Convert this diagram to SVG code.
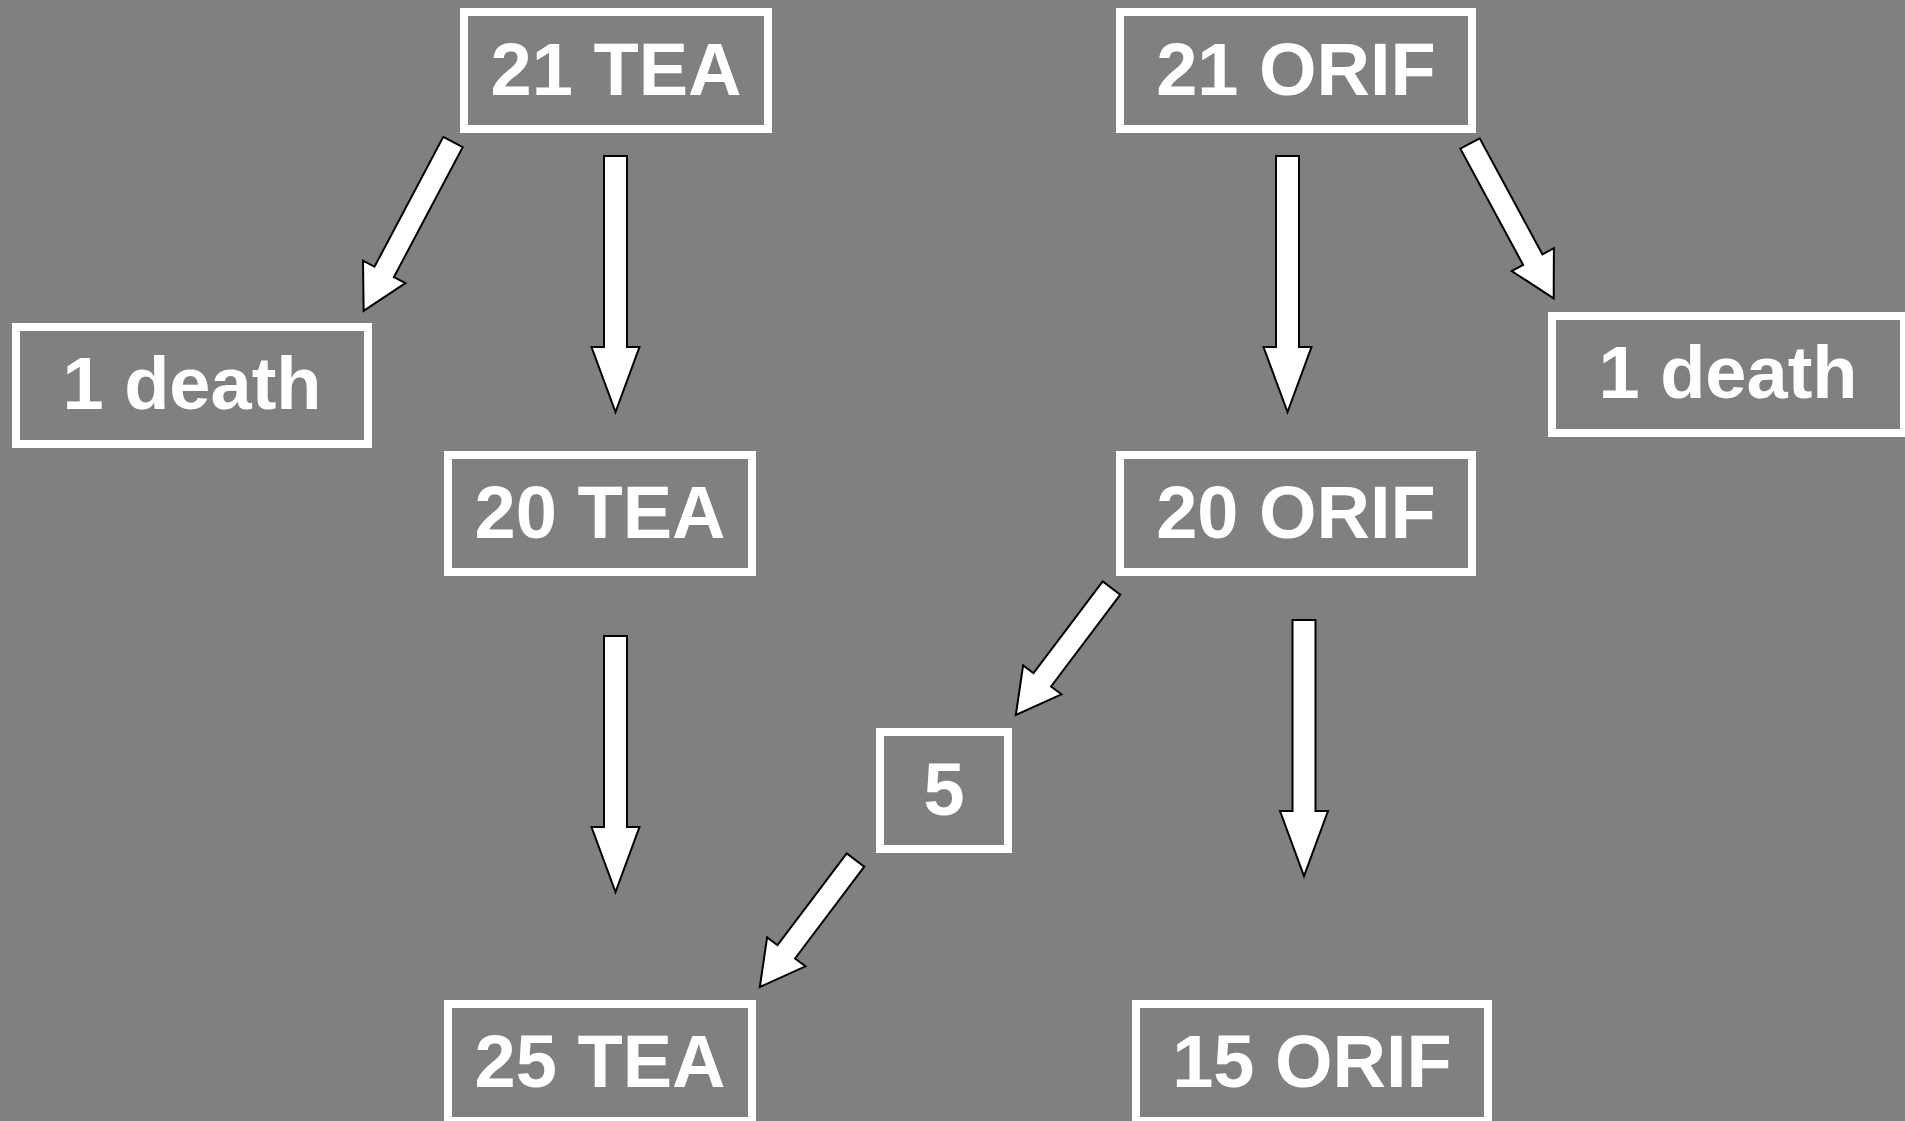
<svg xmlns="http://www.w3.org/2000/svg" width="1905" height="1121" viewBox="0 0 1905 1121">
  <style>
    .box { fill: none; stroke: #ffffff; stroke-width: 8; }
    .lbl { fill: #ffffff; font-family: "Liberation Sans", Arial, sans-serif; font-weight: bold; font-size: 74px; text-anchor: middle; }
    .arrow { fill: #ffffff; stroke: #000000; stroke-width: 2; stroke-linejoin: miter; }
  </style>
  <defs>
    <!-- block arrow pointing down, tail at origin -->
    <path id="arrowV" d="M-11.5,0 H11.5 V191 H24 L0,256 L-24,191 H-11.5 Z"/>
    <path id="arrowMid" d="M-11,0 H11 V115 H24 L0,159 L-24,115 H-11 Z"/>
  </defs>
  <rect width="1905" height="1121" fill="#808080"/>

  <g id="connectors">
    <use href="#arrowV" class="arrow" transform="translate(615.5,156)"/>
    <use href="#arrowV" class="arrow" transform="translate(1287.5,156)"/>
    <use href="#arrowV" class="arrow" transform="translate(615.5,636)"/>
    <use href="#arrowV" class="arrow" transform="translate(1304,620)"/>
    <path class="arrow" d="M-11,0 H11 V147 H24 L0,191 L-24,147 H-11 Z" transform="translate(453,142) rotate(27.9)"/>
    <path class="arrow" d="M-11,0 H11 V132 H24 L0,176 L-24,132 H-11 Z" transform="translate(1470,143.5) rotate(-28.4)"/>
    <use href="#arrowMid" class="arrow" transform="translate(1111.5,588) rotate(37)"/>
    <use href="#arrowMid" class="arrow" transform="translate(855.5,860) rotate(37)"/>
  </g>

  <g id="tea21">
    <rect class="box" x="464" y="12" width="304" height="117"/>
    <text class="lbl" x="616" y="95">21 TEA</text>
  </g>
  <g id="orif21">
    <rect class="box" x="1120" y="12" width="352" height="117"/>
    <text class="lbl" x="1296" y="95">21 ORIF</text>
  </g>
  <g id="deathTea">
    <rect class="box" x="16" y="327" width="352" height="117"/>
    <text class="lbl" x="192" y="409">1 death</text>
  </g>
  <g id="deathOrif">
    <rect class="box" x="1552" y="316" width="352" height="117"/>
    <text class="lbl" x="1728" y="398">1 death</text>
  </g>
  <g id="tea20">
    <rect class="box" x="448" y="455" width="304" height="117"/>
    <text class="lbl" x="600" y="538">20 TEA</text>
  </g>
  <g id="orif20">
    <rect class="box" x="1120" y="455" width="352" height="117"/>
    <text class="lbl" x="1296" y="538">20 ORIF</text>
  </g>
  <g id="crossover">
    <rect class="box" x="880" y="732" width="128" height="117"/>
    <text class="lbl" x="944" y="815">5</text>
  </g>
  <g id="tea25">
    <rect class="box" x="448" y="1004" width="304" height="117"/>
    <text class="lbl" x="600" y="1087">25 TEA</text>
  </g>
  <g id="orif15">
    <rect class="box" x="1136" y="1004" width="352" height="117"/>
    <text class="lbl" x="1312" y="1087">15 ORIF</text>
  </g>
</svg>
